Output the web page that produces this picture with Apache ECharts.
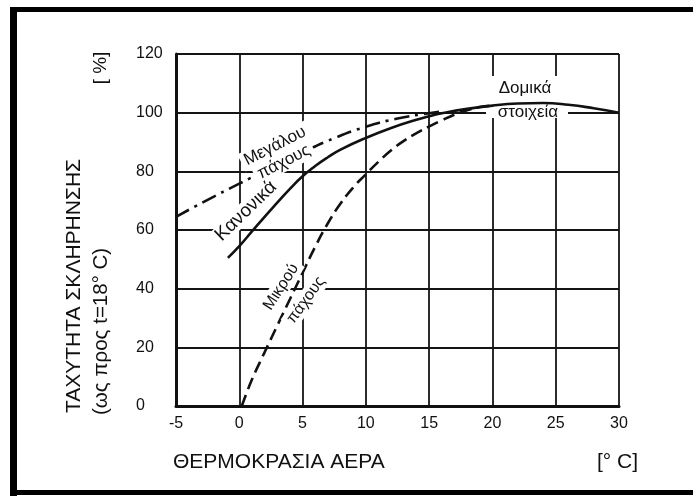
<!DOCTYPE html>
<html>
<head>
<meta charset="utf-8">
<script src="https://cdn.jsdelivr.net/npm/echarts@6/dist/echarts.min.js"></script>
<style>html,body{margin:0;padding:0;background:#fff}#c{width:693px;height:500px}</style>
</head>
<body>
<div id="c"></div>
<script>
// ---- data ----
var xTicks = [-5, 0, 5, 10, 15, 20, 25, 30];
var yTicks = [0, 20, 40, 60, 80, 100, 120];

var normalTemp = [-0.9, 0, 1, 2, 3, 4, 5, 6, 7, 8, 10, 12, 14, 15, 16, 18, 20, 22, 24, 26, 28, 30];
var normalVal  = [50.5, 54.5, 59.5, 64.5, 69.3, 74, 78.3, 81.8, 84.8, 87.4, 91.4, 94.8, 97.6, 98.8, 99.8, 101.3, 102.4, 103.1, 103.3, 102.7, 101.5, 100];

var thickTemp = [-5, -2.5, 0, 2.5, 5, 7.5, 10, 12.5, 15, 16];
var thickVal  = [64.5, 70.3, 75.8, 81.2, 86.5, 91.3, 95.2, 98, 99.8, 100.4];

var thinTemp = [0.2, 1, 2, 3, 4, 5, 6, 7, 8, 9, 10, 11, 12, 13, 14, 15, 16, 17, 18, 19, 20];
var thinVal  = [0, 9, 18.3, 27.4, 36.4, 45.4, 54.3, 62.3, 69, 74.5, 79, 83.3, 87.2, 90.4, 93, 95.3, 97.4, 99.3, 100.8, 101.9, 102.4];

function pairs(xs, ys) { return xs.map(function (x, i) { return [x, ys[i]]; }); }

var FONT = '"Liberation Sans", Arial, sans-serif';
var INK = '#111';

var chart = echarts.init(document.getElementById('c'), null, { renderer: 'canvas' });

function lbl(text, x, y, rotDeg, size, extra) {
  var st = { text: text, x: 0, y: 0, fill: INK, font: 'normal ' + size + 'px ' + FONT,
             textAlign: 'center', textVerticalAlign: 'middle' };
  if (extra) for (var k in extra) st[k] = extra[k];
  return { type: 'text', x: x, y: y, rotation: rotDeg * Math.PI / 180, z: 10, style: st };
}
var BG = { backgroundColor: '#fff', padding: [1, 4] };
var BG2 = { backgroundColor: '#fff', padding: [0, 3] };

var option = {
  animation: false,
  backgroundColor: '#fff',
  grid: { left: 176, right: 74, top: 54, bottom: 94, containLabel: false },
  xAxis: {
    type: 'value', min: xTicks[0], max: xTicks[xTicks.length - 1], interval: 5,
    axisLine: { show: true, onZero: false, lineStyle: { color: INK, width: 3 } },
    axisTick: { show: false },
    axisLabel: { color: INK, fontSize: 16, fontFamily: FONT, margin: 10,
                 formatter: function (v) { return xTicks.indexOf(v) >= 0 ? String(v) : ''; } },
    splitLine: { show: true, lineStyle: { color: '#151515', width: 1.8 } }
  },
  yAxis: {
    type: 'value', min: yTicks[0], max: yTicks[yTicks.length - 1], interval: 20,
    axisLine: { show: true, onZero: false, lineStyle: { color: INK, width: 3 } },
    axisTick: { show: false },
    axisLabel: { color: INK, fontSize: 16, fontFamily: FONT, margin: 40, align: 'left',
                 formatter: function (v) { return yTicks.indexOf(v) >= 0 ? String(v) : ''; } },
    splitLine: { show: true, lineStyle: { color: '#151515', width: 1.8 } }
  },
  series: [
    { name: 'Κανονικά', type: 'line', smooth: true, symbol: 'none', z: 3,
      data: pairs(normalTemp, normalVal),
      lineStyle: { color: INK, width: 2.6, type: 'solid' } },
    { name: 'Μεγάλου πάχους', type: 'line', smooth: true, symbol: 'none', z: 3,
      data: pairs(thickTemp, thickVal),
      lineStyle: { color: INK, width: 2.6, type: [15, 6, 3, 6] } },
    { name: 'Μικρού πάχους', type: 'line', smooth: true, symbol: 'none', z: 3,
      data: pairs(thinTemp, thinVal),
      lineStyle: { color: INK, width: 2.6, type: [12, 6] } }
  ],
  graphic: [
    // frame
    { type: 'rect', z: 20, shape: { x: 10, y: 7, width: 683, height: 5 }, style: { fill: '#000' } },
    { type: 'rect', z: 20, shape: { x: 10, y: 7, width: 7, height: 489 }, style: { fill: '#000' } },
    { type: 'rect', z: 20, shape: { x: 10, y: 490, width: 683, height: 5 }, style: { fill: '#000' } },
    // label box for Δομικά στοιχεία (behind curve, above grid)
    { type: 'rect', z: 1, shape: { x: 486, y: 76, width: 82, height: 42 }, style: { fill: '#fff' } },
    { type: 'text', x: 525, y: 88, z: 1, style: { text: 'Δομικά', fill: INK, font: 'normal 17px ' + FONT, textAlign: 'center', textVerticalAlign: 'middle' } },
    { type: 'text', x: 528, y: 112, z: 1, style: { text: 'στοιχεία', fill: INK, font: 'normal 17px ' + FONT, textAlign: 'center', textVerticalAlign: 'middle' } },
    // curve labels
    lbl('Μεγάλου', 275, 146, 27, 17, BG),
    lbl('πάχους', 284, 162, 27, 17, BG),
    lbl('Κανονικά', 246, 211, 44, 19, BG2),
    lbl('Μικρού', 281, 287, 57, 16, BG),
    lbl('πάχους', 306, 300, 54, 16, BG),
    // axis titles
    lbl('ΘΕΡΜΟΚΡΑΣΙΑ ΑΕΡΑ', 173, 462, 0, 21, { textAlign: 'left' }),
    lbl('[° C]', 597, 462, 0, 21, { textAlign: 'left' }),
    lbl('ΤΑΧΥΤΗΤΑ ΣΚΛΗΡΗΝΣΗΣ', 74, 413, 90, 21, { textAlign: 'left' }),
    lbl('(ως προς t=18° C)', 101, 415, 90, 20.5, { textAlign: 'left' }),
    lbl('[ %]', 101, 68, 90, 19)
  ]
};
chart.setOption(option);
</script>
</body>
</html>
